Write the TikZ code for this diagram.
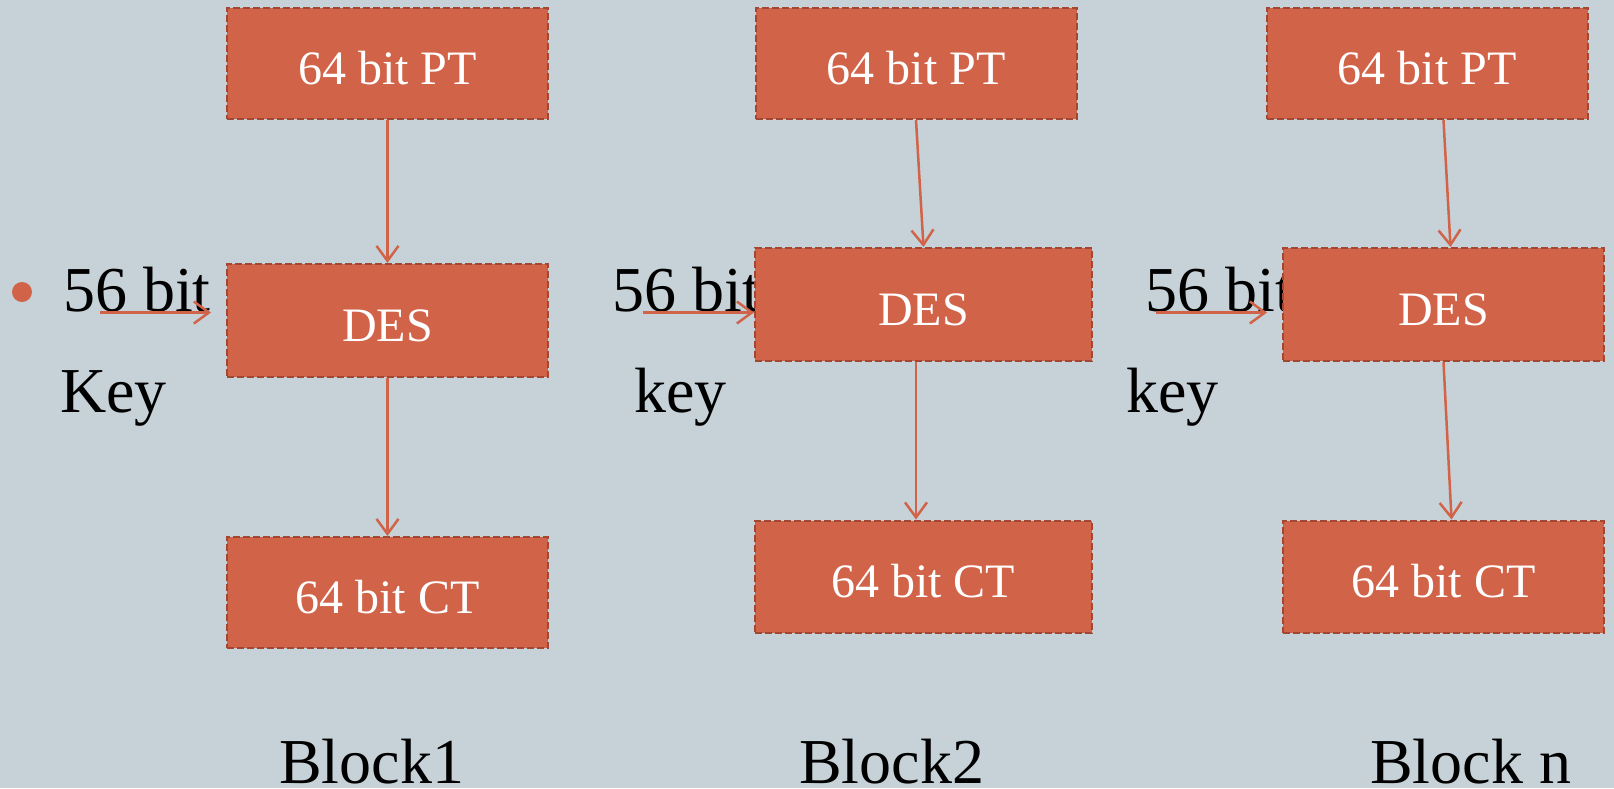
\documentclass[tikz,border=0pt]{standalone}
\usepackage{fontspec}
\setmainfont{Liberation Serif}
\usetikzlibrary{arrows.meta,positioning}
\definecolor{slate}{RGB}{198,210,216}
\definecolor{brick}{RGB}{209,99,73}
\definecolor{brickdark}{RGB}{163,70,50}

\begin{document}
\begin{tikzpicture}[x=1pt,y=-1pt,
      box/.style={fill=brick,draw=brickdark,line width=2pt,
        dash pattern=on 7pt off 3pt,
        minimum width=321pt,minimum height=111pt,
        inner sep=0pt,text=white,
        text height=42pt,text depth=0pt,
        font=\fontsize{48}{54}\selectfont},
      wide/.style={minimum width=337pt},
      lbl/.style={inner sep=0pt,anchor=base west,
        font=\fontsize{64}{72}\selectfont},
      arr/.style={-{Straight Barb[length=15pt,width=22pt]},
        line width=2.5pt,brick}
    ]
      \useasboundingbox (0,0) rectangle (1614,788);
      \fill[slate] (0,0) rectangle (1614,788);

      % key labels, under the boxes
      \node[circle,fill=brick,minimum size=20pt,inner sep=0pt]
        (dot) at (22,292) {};
      \node[lbl] (key1) at (63,311) {56 bit};
      \node[lbl] (kw1) at (60,412) {Key};
      \node[lbl] (key2) at (612,311) {56 bit};
      \node[lbl] (kw2) at (634,412) {key};
      \node[lbl] (key3) at (1145,311) {56 bit};
      \node[lbl] (kw3) at (1126,412) {key};

      \node[lbl] (blk1) at (279,783) {Block1};
      \node[lbl] (blk2) at (799,783) {Block2};
      \node[lbl] (blk3) at (1370,783) {Block n};

      % block 1
      \node[box] (pt1) at (387.5,63.5) {64 bit PT};
      \node[box,minimum height=113pt] (des1) at (387.5,320.5) {DES};
      \node[box] (ct1) at (387.5,592.5) {64 bit CT};

      % block 2
      \node[box] (pt2) at (916,63.5) {64 bit PT};
      \node[box,wide,minimum height=113pt] (des2) at (923.5,304.5) {DES};
      \node[box,wide,minimum height=112pt] (ct2) at (923,576.5) {64 bit CT};

      % block n
      \node[box] (pt3) at (1427,63.5) {64 bit PT};
      \node[box,minimum height=113pt] (des3) at (1443.5,304.5) {DES};
      \node[box,minimum height=112pt] (ct3) at (1443.5,576.5) {64 bit CT};

      \coordinate (k1a) at (100,312.5);
      \coordinate (k1b) at (211,312.5);
      \coordinate (k2a) at (643,312.5);
      \coordinate (k3a) at (1156,312.5);
      \coordinate (k3b) at (1267,312.5);

      \draw[arr] (pt1.south) -- (des1.north);
      \draw[arr] (des1.south) -- (ct1.north);
      \draw[arr] (k1a) -- (k1b);

      \draw[arr] (pt2.south) -- (des2.north);
      \draw[arr] (pt2.south |- des2.south) -- (pt2.south |- ct2.north);
      \draw[arr] (k2a) -- (k2a -| des2.west);

      \draw[arr] (des3.north |- pt3.south) -- ([xshift=7pt]des3.north);
      \draw[arr] (des3.south) -- ([xshift=8pt]ct3.north);
      \draw[arr] (k3a) -- (k3b);
    \end{tikzpicture}
\end{document}
